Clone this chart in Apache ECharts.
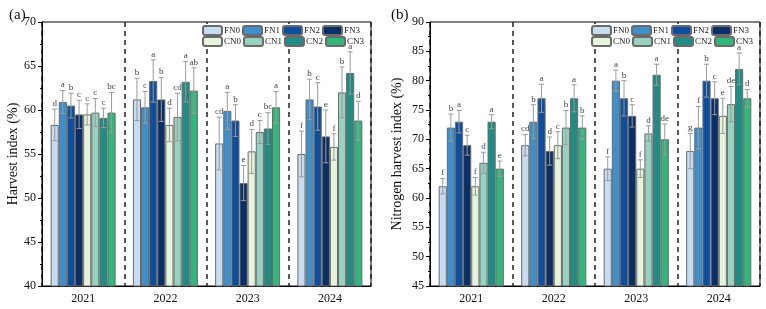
<!DOCTYPE html>
<html>
<head>
<meta charset="utf-8">
<script src="https://cdn.jsdelivr.net/npm/echarts@6/dist/echarts.min.js"></script>
<style>
  html, body { margin: 0; padding: 0; background: #fff; }
  #chart { width: 766px; height: 309px; }
</style>
</head>
<body>
<div id="chart"></div>
<script>
// categories and treatments
const years = ['2021', '2022', '2023', '2024'];
const treatments = ['FN0', 'FN1', 'FN2', 'FN3', 'CN0', 'CN1', 'CN2', 'CN3'];
const colors = ['#C6DCF0', '#3F8FCB', '#0D4F9E', '#0A2E66', '#E6F4DC', '#97D2C1', '#1F8C85', '#31B67B'];

// (a) harvest index, one row per treatment, values by year
const hiMean = [
  [58.3, 61.2, 56.2, 55.0],
  [60.9, 60.3, 59.9, 61.2],
  [60.5, 63.3, 58.8, 60.4],
  [59.5, 61.2, 51.7, 57.0],
  [59.5, 58.3, 55.3, 55.8],
  [59.7, 59.2, 57.5, 62.0],
  [59.1, 63.2, 57.9, 64.2],
  [59.7, 62.2, 60.3, 58.8]
];
const hiErr = [
  [1.8, 2.4, 3.0, 2.6],
  [1.3, 1.8, 2.1, 2.3],
  [1.4, 2.4, 1.8, 2.7],
  [1.6, 2.5, 2.0, 3.0],
  [1.2, 1.9, 2.5, 1.5],
  [1.6, 2.7, 1.3, 2.9],
  [1.1, 2.3, 1.8, 2.4],
  [2.3, 2.6, 1.8, 2.2]
];
const hiSig = [
  ['d', 'b', 'cd', 'f'],
  ['a', 'c', 'a', 'b'],
  ['b', 'a', 'b', 'c'],
  ['c', 'b', 'e', 'e'],
  ['c', 'd', 'd', 'f'],
  ['c', 'cd', 'c', 'b'],
  ['c', 'a', 'bc', 'a'],
  ['bc', 'ab', 'a', 'd']
];

// (b) nitrogen harvest index
const nhiMean = [
  [62, 69, 65, 68],
  [72, 73, 80, 72],
  [73, 77, 77, 80],
  [69, 68, 74, 77],
  [62, 69, 65, 74],
  [66, 72, 71, 76],
  [73, 77, 81, 82],
  [65, 72, 70, 77]
];
const nhiErr = [
  [1.3, 1.8, 2.0, 3.0],
  [2.3, 2.9, 1.8, 3.6],
  [1.9, 2.4, 3.0, 2.8],
  [1.7, 2.4, 1.9, 2.8],
  [1.5, 2.3, 1.5, 3.0],
  [1.8, 2.9, 1.3, 3.0],
  [1.2, 2.3, 1.8, 2.7],
  [1.3, 2.0, 2.6, 1.5]
];
const nhiSig = [
  ['f', 'cd', 'f', 'g'],
  ['b', 'b', 'a', 'f'],
  ['a', 'a', 'b', 'b'],
  ['c', 'd', 'c', 'c'],
  ['f', 'c', 'f', 'e'],
  ['d', 'b', 'd', 'de'],
  ['a', 'a', 'a', 'a'],
  ['e', 'b', 'de', 'd']
];

const serif = '"Liberation Serif", "Times New Roman", serif';
const catGap = 0.21;

function barSeries(g, means) {
  return treatments.map(function (name, i) {
    return {
      name: name,
      type: 'bar',
      xAxisIndex: g,
      yAxisIndex: g,
      barGap: '0%',
      barCategoryGap: (catGap * 100) + '%',
      data: means[i],
      itemStyle: { color: colors[i], borderColor: '#6a6a6a', borderWidth: 1 },
      z: 2
    };
  });
}

function errSeries(g, means, errs, sig) {
  return treatments.map(function (name, i) {
    return {
      name: name,
      type: 'custom',
      xAxisIndex: g,
      yAxisIndex: g,
      z: 5,
      silent: true,
      data: means[i].map(function (v, k) { return [k, v, errs[i][k]]; }),
      renderItem: function (params, api) {
        const k = api.value(0), v = api.value(1), e = api.value(2);
        const band = api.size([1, 0])[0];
        const used = band * (1 - catGap);
        const bw = used / treatments.length;
        const cx = api.coord([k, v])[0] - used / 2 + (i + 0.5) * bw;
        const top = api.coord([k, v + e])[1];
        const bot = api.coord([k, v - e])[1];
        const cap = 2.5;
        const st = { stroke: '#9a9a9a', lineWidth: 1 };
        return {
          type: 'group',
          children: [
            { type: 'line', shape: { x1: cx, y1: top, x2: cx, y2: bot }, style: st },
            { type: 'line', shape: { x1: cx - cap, y1: top, x2: cx + cap, y2: top }, style: st },
            { type: 'line', shape: { x1: cx - cap, y1: bot, x2: cx + cap, y2: bot }, style: st },
            {
              type: 'text',
              style: {
                text: sig[i][params.dataIndex],
                x: cx, y: top - 1,
                align: 'center', verticalAlign: 'bottom',
                font: '9px ' + serif,
                fill: '#444'
              }
            }
          ]
        };
      }
    };
  });
}

function xAxis(g) {
  return {
    type: 'category',
    gridIndex: g,
    data: years,
    axisLine: { lineStyle: { color: '#000', width: 1 } },
    axisTick: { alignWithLabel: true, length: 3, lineStyle: { color: '#000' } },
    axisLabel: { color: '#111', fontFamily: serif, fontSize: 12, margin: 7 },
    splitLine: { show: true, lineStyle: { color: '#222', type: [5, 4], width: 1.5 } }
  };
}

function yAxis(g, min, max, name, gap) {
  return {
    type: 'value',
    gridIndex: g,
    min: min,
    max: max,
    interval: 5,
    name: name,
    nameLocation: 'middle',
    nameGap: gap,
    nameTextStyle: { fontFamily: serif, fontSize: 14, color: '#111' },
    axisLine: { show: true, lineStyle: { color: '#000', width: 1 } },
    axisTick: { show: true, length: 4, lineStyle: { color: '#000' } },
    minorTick: { show: true, splitNumber: 2, length: 2, lineStyle: { color: '#000' } },
    axisLabel: { color: '#111', fontFamily: serif, fontSize: 12, margin: 6 },
    splitLine: { show: false }
  };
}

function legendRow(names, left, top) {
  return {
    data: names,
    left: left,
    top: top,
    itemWidth: 19,
    itemHeight: 9,
    itemGap: 2,
    padding: [1, 2],
    backgroundColor: '#fff',
    selectedMode: false,
    textStyle: { fontFamily: serif, fontSize: 9, color: '#222', padding: [0, 0, 0, -3] }
  };
}

const chart = echarts.init(document.getElementById('chart'));
chart.setOption({
  animation: false,
  backgroundColor: '#fff',
  title: [
    { text: '(a)', left: 4, top: 3, textStyle: { fontFamily: serif, fontSize: 15, fontWeight: 'normal', color: '#111' } },
    { text: '(b)', left: 386, top: 3, textStyle: { fontFamily: serif, fontSize: 15, fontWeight: 'normal', color: '#111' } }
  ],
  grid: [
    { left: 42, right: 395, top: 22, bottom: 23, show: true, borderColor: '#000', borderWidth: 1 },
    { left: 430, right: 6, top: 22, bottom: 23, show: true, borderColor: '#000', borderWidth: 1 }
  ],
  legend: [
    legendRow(treatments.slice(0, 4), 200, 24),
    legendRow(treatments.slice(4), 200, 35),
    legendRow(treatments.slice(0, 4), 589, 24),
    legendRow(treatments.slice(4), 589, 35)
  ],
  xAxis: [xAxis(0), xAxis(1)],
  yAxis: [
    yAxis(0, 40, 70, 'Harvest index (%)', 18),
    yAxis(1, 45, 90, 'Nitrogen harvest index (%)', 26)
  ],
  series: [].concat(
    barSeries(0, hiMean),
    errSeries(0, hiMean, hiErr, hiSig),
    barSeries(1, nhiMean),
    errSeries(1, nhiMean, nhiErr, nhiSig)
  )
});
</script>
</body>
</html>
